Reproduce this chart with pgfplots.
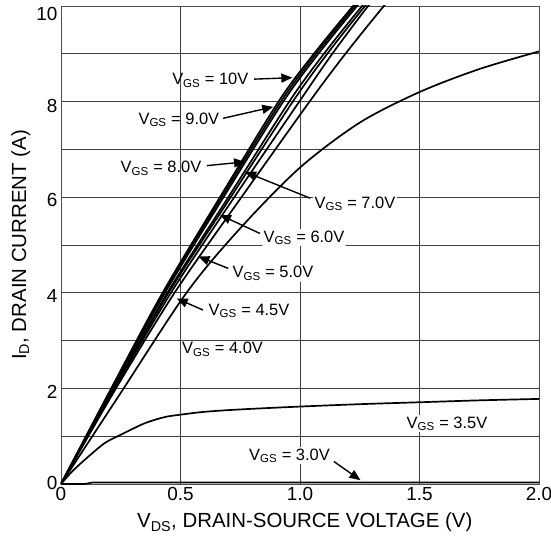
\documentclass[border=0pt]{standalone}
\usepackage{pgfplots}
\pgfplotsset{compat=1.18}
\usetikzlibrary{arrows.meta}
\usepackage{fontspec}
\setmainfont{Liberation Sans}
\newcommand\ann{\fontsize{16.5}{19}\selectfont}
\newcommand\yl[2]{\raisebox{#1}[\height][\depth]{#2}}
\begin{document}
\begin{tikzpicture}
\path[use as bounding box] (-61bp,-58bp) rectangle (490bp,484bp);
\begin{axis}[
  at={(0,0)}, anchor=south west,
  scale only axis, width=478bp, height=478bp,
  xmin=0, xmax=2, ymin=0, ymax=10,
  xtick={0,0.5,1,1.5,2}, xticklabels={0,0.5,1.0,1.5,2.0},
  ytick={0,2,4,6,8,10},
  yticklabels={\yl{1bp}{0},\yl{-3bp}{2},\yl{-3bp}{4},\yl{-3bp}{6},\yl{-4bp}{8},\yl{-8bp}{10}},
  minor ytick={1,3,5,7,9},
  grid=both,
  major grid style={black!75, line width=0.7bp},
  minor grid style={black!75, line width=0.7bp},
  axis line style={black!70, line width=0.8bp},
  major tick length=0pt, minor tick length=0pt,
  /pgf/number format/assume math mode=true,
  tick label style={font=\fontsize{19}{22}\selectfont},
  label style={font=\fontsize{20.5}{24}\selectfont},
  xlabel={V\textsubscript{DS}, DRAIN-SOURCE VOLTAGE (V)},
  ylabel={I\textsubscript{D}, DRAIN CURRENT (A)},
  xlabel style={at={(axis description cs:0.51,-0.092)}, anchor=base},
  ylabel style={at={(axis description cs:-0.073,0.5)}, anchor=base},
  curve/.style={black, line width=1.7bp, no markers, smooth, tension=0.5},
]
% 10V
\addplot[curve] coordinates {(0,0) (0.21,2) (0.425,4) (0.665,6) (0.91,8) (1.058,9) (1.222,10) (1.31,10.5)};
% 9V
\addplot[curve] coordinates {(0,0) (0.212,2) (0.43,4) (0.672,6) (0.92,8) (1.067,9) (1.23,10) (1.32,10.5)};
% 8V
\addplot[curve] coordinates {(0,0) (0.215,2) (0.435,4) (0.68,6) (0.93,8) (1.077,9) (1.239,10) (1.33,10.5)};
% 7V
\addplot[curve] coordinates {(0,0) (0.22,2) (0.445,4) (0.70,6) (0.955,8) (1.1,9) (1.26,10) (1.35,10.5)};
% 6V
\addplot[curve] coordinates {(0,0) (0.222,2) (0.45,4) (0.71,6) (0.97,8) (1.114,9) (1.272,10) (1.36,10.5)};
% 5V
\addplot[curve] coordinates {(0,0) (0.225,2) (0.46,4) (0.725,6) (0.997,8) (1.135,9) (1.285,10) (1.37,10.5)};
% 4.5V
\addplot[curve] coordinates {(0,0) (0.23,2) (0.475,4) (0.755,6) (1.04,8) (1.19,9) (1.351,10) (1.44,10.5)};
% 4.0V
\addplot[curve] coordinates {(0,0) (0.24,1.83) (0.525,4.0) (0.75,5.35) (1.0,6.62) (1.25,7.56) (1.5,8.2) (1.75,8.68) (2.0,9.05)};
% 3.5V
\addplot[curve] coordinates {(0,0) (0.05,0.28) (0.114,0.57) (0.184,0.86) (0.25,1.03) (0.35,1.27) (0.434,1.40) (0.5,1.45) (0.6,1.51) (0.75,1.56) (1.0,1.62) (1.25,1.67) (1.5,1.71) (1.75,1.75) (2.0,1.78)};
% 3.0V
\addplot[black, line width=1.7bp, no markers] coordinates {(0,0) (0.1,0) (0.13,0.03) (2.0,0.03)};

\tikzset{ann/.style={font=\ann, text=black, inner sep=1.5bp},
         arr/.style={-{Triangle[length=11bp,width=9bp]}, line width=1.4bp, black}}
\node[ann, anchor=east] at (axis cs:0.791,8.45) {V\textsubscript{GS} = 10V};
\draw[arr] (axis cs:0.808,8.47) -- (axis cs:0.968,8.5);
\node[ann, anchor=east] at (axis cs:0.669,7.62) {V\textsubscript{GS} = 9.0V};
\draw[arr] (axis cs:0.678,7.65) -- (axis cs:0.888,7.89);
\node[ann, anchor=east] at (axis cs:0.594,6.61) {V\textsubscript{GS} = 8.0V};
\draw[arr] (axis cs:0.61,6.66) -- (axis cs:0.77,6.74);
\node[ann, anchor=west, fill=white] at (axis cs:1.054,5.86) {V\textsubscript{GS} = 7.0V};
\draw[arr] (axis cs:1.042,5.98) -- (axis cs:0.77,6.53);
\node[ann, anchor=west, fill=white] at (axis cs:0.841,5.15) {V\textsubscript{GS} = 6.0V};
\draw[arr] (axis cs:0.833,5.24) -- (axis cs:0.665,5.63);
\node[ann, anchor=west, fill=white] at (axis cs:0.711,4.41) {V\textsubscript{GS} = 5.0V};
\draw[arr] (axis cs:0.70,4.51) -- (axis cs:0.575,4.76);
\node[ann, anchor=west, fill=white] at (axis cs:0.611,3.62) {V\textsubscript{GS} = 4.5V};
\draw[arr] (axis cs:0.594,3.64) -- (axis cs:0.484,3.88);
\node[ann, fill=white] at (axis cs:0.676,2.82) {V\textsubscript{GS} = 4.0V};
\node[ann, fill=white] at (axis cs:1.615,1.26) {V\textsubscript{GS} = 3.5V};
\node[ann, fill=white] at (axis cs:0.956,0.59) {V\textsubscript{GS} = 3.0V};
\draw[arr] (axis cs:1.142,0.47) -- (axis cs:1.253,0.08);
\end{axis}
\end{tikzpicture}
\end{document}
